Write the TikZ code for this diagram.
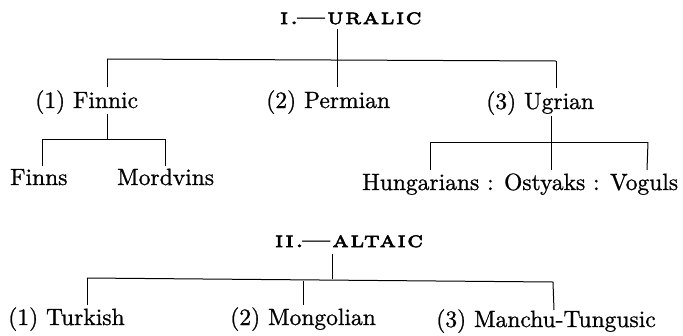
\documentclass[tikz,border=0pt]{standalone}
\usepackage{fontspec}
\newfontfamily\bodyfont{lmroman10-regular}[Extension=.otf,FakeBold=0.9]
\newfontfamily\ttlfont{lmromancaps10-regular}[Extension=.otf,FakeBold=3,FakeStretch=1.2,LetterSpace=8]
\begin{document}
\begin{tikzpicture}[x=1pt,y=-1pt,
  lbl/.style={anchor=base west,inner sep=0pt,font=\bodyfont\fontsize{23.5}{26}\selectfont},
  ttl/.style={anchor=base west,inner sep=0pt,font=\ttlfont\fontsize{22}{24}\selectfont},
  ln/.style={line width=1pt}]
\useasboundingbox (0,0) rectangle (683,335);
% ---- Uralic
\node[ttl] (ur) at (280,24) {i.\kern-2pt—uralic};
\coordinate (urt) at (337,29);
\coordinate (urj) at (337,59);
\coordinate (urL) at (107,59);
\coordinate (urR) at (556,61);
\node[lbl] (fin) at (35,108) {(1) Finnic};
\node[lbl] (per) at (266,108) {(2) Permian};
\node[lbl] (ugr) at (486,109) {(3) Ugrian};
\draw[ln] (urt) -- (urj);
\draw[ln] (urL) -- (urR);
\coordinate (finT) at (107,87);
\coordinate (perT) at (337,87);
\coordinate (ugrT) at (556,88);
\draw[ln] (urL) -- (finT);
\draw[ln] (urj) -- (perT);
\draw[ln] (urR) -- (ugrT);
% Finnic branch
\coordinate (finB) at (107,114);
\coordinate (finj) at (107,139);
\coordinate (finL) at (42,139);
\coordinate (finR) at (165,139);
\node[lbl] (finns) at (10,185) {Finns};
\node[lbl] (mord) at (117,185) {Mordvins};
\coordinate (finnsT) at (42,166);
\coordinate (mordT) at (165,166);
\draw[ln] (finB) -- (finj);
\draw[ln] (finL) -- (finR);
\draw[ln] (finL) -- (finnsT);
\draw[ln] (finR) -- (mordT);
% Ugrian branch
\coordinate (ugB) at (551,116);
\coordinate (ugj) at (551,142);
\coordinate (ugL) at (430,142);
\coordinate (ugR) at (648,142);
\node[lbl] (hun) at (362,190) {Hungarians : Ostyaks : Voguls};
\coordinate (hunT) at (430,170);
\coordinate (ostT) at (551,170);
\coordinate (vogT) at (647,170);
\draw[ln] (ugB) -- (ugj);
\draw[ln] (ugL) -- (ugR);
\draw[ln] (ugL) -- (hunT);
\draw[ln] (ugj) -- (ostT);
\draw[ln] (ugR) -- (vogT);
% ---- Altaic
\node[ttl] (al) at (275,247) {ii.\kern-2pt—altaic};
\coordinate (alt) at (332,254);
\coordinate (alj) at (332,279);
\coordinate (alL) at (87,278);
\coordinate (alR) at (553,282);
\draw[ln] (alt) -- (alj);
\draw[ln] (alL) -- (alR);
\node[lbl] (tur) at (8,325) {(1) Turkish};
\node[lbl] (mon) at (230,325) {(2) Mongolian};
\node[lbl] (man) at (436,327) {(3) Manchu-Tungusic};
\coordinate (turT) at (87,305);
\coordinate (monJ) at (303,281);
\coordinate (monT) at (303,305);
\coordinate (manT) at (554,310);
\draw[ln] (alL) -- (turT);
\draw[ln] (monJ) -- (monT);
\draw[ln] (alR) -- (manT);
\end{tikzpicture}
\end{document}
